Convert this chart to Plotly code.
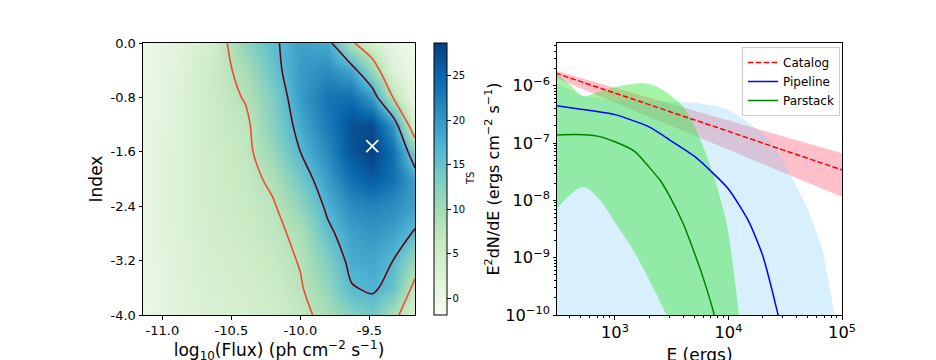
import plotly.graph_objects as go

# ---------------- left panel: TS map ----------------
log_flux = [-11.14, -10.9, -10.65, -10.4, -10.2, -10.0, -9.8, -9.63, -9.48, -9.33, -9.17]
index_vals = [0.0, -0.4, -0.8, -1.2, -1.6, -2.0, -2.4, -2.8, -3.2, -3.6, -4.0]
ts_rows = [
    [0.0, 1.5, 4.5, 11.8, 15.7, 19.0, 18.0, 8.7, 4.0, 1.0, -1.0],
    [0.2, 1.8, 5.5, 9.5, 15.0, 19.5, 21.0, 18.5, 11.0, 2.5, 0.0],
    [0.3, 2.0, 5.5, 8.3, 13.0, 19.5, 23.5, 24.0, 19.5, 8.0, 0.0],
    [0.4, 2.2, 5.5, 7.0, 12.5, 18.0, 23.0, 27.0, 27.5, 20.0, 3.0],
    [0.5, 2.5, 5.0, 6.8, 11.0, 16.5, 21.5, 26.5, 28.7, 24.0, 13.0],
    [0.6, 2.6, 5.0, 6.3, 9.0, 14.0, 19.5, 24.0, 26.0, 24.0, 19.0],
    [0.6, 2.6, 4.8, 6.0, 7.5, 11.5, 17.5, 21.0, 22.0, 21.0, 19.0],
    [0.5, 2.4, 4.5, 5.5, 7.0, 9.0, 15.5, 19.0, 20.0, 19.0, 16.0],
    [0.4, 2.2, 4.0, 5.0, 6.2, 8.3, 13.0, 17.8, 18.5, 16.5, 10.8],
    [0.3, 2.0, 3.6, 4.5, 5.5, 7.6, 11.5, 16.2, 17.2, 15.0, 6.5],
    [0.2, 1.8, 3.2, 4.0, 5.0, 6.8, 9.5, 12.5, 14.0, 9.5, 4.0],
]
contour_levels = [8.0, 16.5]
contour_colors = ["#ef4b31", "#5c0618"]
best_flux = [-9.48]
best_index = [-1.515]
ts_min, ts_max = -1.9, 28.7
cbar_ticks = [0, 5, 10, 15, 20, 25]
flux_ticks = [-11.0, -10.5, -10.0, -9.5]
flux_ticktext = ["-11.0", "-10.5", "-10.0", "-9.5"]
index_ticks = [0.0, -0.8, -1.6, -2.4, -3.2, -4.0]
index_ticktext = ["0.0", "-0.8", "-1.6", "-2.4", "-3.2", "-4.0"]

# ---------------- right panel: SEDs ----------------
E_cat = [300, 1000, 3000, 10000, 30000, 100000]
cat_sed = [1.66e-6, 7.5e-7, 3.6e-7, 1.6e-7, 7.6e-8, 3.4e-8]
E_catband = [300, 1000, 10000, 100000]
cat_up = [1.84e-6, 9.2e-7, 2.45e-7, 6.6e-8]
cat_lo = [1.37e-6, 5.1e-7, 7.65e-8, 1.15e-8]

E_pipe = [300, 500, 1000, 2000, 3000, 5000, 7000, 10000, 15000, 20000, 27000, 32000]
pipe_sed = [4.5e-7, 3.89e-7, 3.13e-7, 1.91e-7, 1.15e-7, 5.9e-8, 3.24e-8, 1.58e-8,
            4.37e-9, 1.10e-9, 1.12e-10, 2.5e-11]
E_pipeband = [300, 525, 1000, 2500, 5000, 7900, 10000, 12600, 17800, 24500, 34700,
              49000, 68000, 86000, 98000]
pipe_up = [1.12e-6, 6.6e-7, 5.6e-7, 5.4e-7, 5.1e-7, 4.4e-7, 3.8e-7, 2.9e-7, 1.74e-7,
           9.8e-8, 2.95e-8, 7.8e-9, 1.35e-9, 1.0e-10, 2.5e-11]
pipe_lo = [1e-11] * len(E_pipeband)

E_par = [300, 450, 700, 1000, 1500, 2000, 2500, 3000, 4000, 5000, 6000, 7500, 8500]
par_sed = [1.38e-7, 1.41e-7, 1.32e-7, 1.05e-7, 7.1e-8, 3.8e-8, 2.24e-8, 1.23e-8,
           3.9e-9, 1.23e-9, 4.4e-10, 1.0e-10, 3.2e-11]
E_par_up = [300, 400, 525, 700, 900, 1200, 1700, 2300, 2900, 4000, 5000, 5600,
            7300, 9600, 11000, 12400, 13500]
par_up = [1.66e-6, 1.05e-6, 6.6e-7, 7.6e-7, 8.9e-7, 1.02e-6, 1.10e-6, 9.8e-7, 7.4e-7,
          4.3e-7, 2.0e-7, 1.2e-7, 2.95e-8, 4.0e-9, 6.9e-10, 1.0e-10, 2.5e-11]
E_par_lo = [300, 525, 740, 1000, 1450, 2850, 3300]
par_lo = [6.8e-9, 1.7e-8, 1.0e-8, 4.1e-9, 1.35e-9, 1.0e-10, 5.0e-11]

FONT = "DejaVu Sans"
W, H = 936, 360
OFF = 8  # page offset of the plot div inside the browser window


def px_x(p):
    return (p - OFF) / W


def px_y(p):
    return 1 - (p - OFF) / H


fig = go.Figure()

fig.add_trace(go.Heatmap(
    x=log_flux, y=index_vals[::-1], z=ts_rows[::-1],
    colorscale="GnBu", zmin=ts_min, zmax=ts_max, zsmooth="best",
    colorbar=dict(
        x=px_x(434), xanchor="left", xpad=0, y=px_y(315), yanchor="bottom",
        len=(315 - 43) / H, lenmode="fraction", ypad=0, thickness=13,
        outlinecolor="black", outlinewidth=1,
        tickvals=cbar_ticks, ticks="outside", ticklen=3.5, tickcolor="black",
        tickfont=dict(size=10, family=FONT, color="black"),
    ),
    hoverinfo="skip",
))
for lev, col in zip(contour_levels, contour_colors):
    fig.add_trace(go.Contour(
        x=log_flux, y=index_vals[::-1], z=ts_rows[::-1],
        contours=dict(start=lev, end=lev, size=1, coloring="none"),
        line=dict(color=col, width=1.6, smoothing=1.0),
        showscale=False, showlegend=False, hoverinfo="skip",
    ))
fig.add_trace(go.Scatter(
    x=best_flux, y=best_index, mode="markers",
    marker=dict(symbol="x-thin", size=12, line=dict(color="white", width=1.8)),
    showlegend=False, hoverinfo="skip",
))

fig.add_trace(go.Scatter(
    x=E_catband + E_catband[::-1], y=cat_up + cat_lo[::-1],
    fill="toself", fillcolor="rgb(255,192,203)", line=dict(width=0),
    mode="lines", showlegend=False, hoverinfo="skip", xaxis="x2", yaxis="y2",
))
fig.add_trace(go.Scatter(
    x=E_pipeband + E_pipeband[::-1], y=pipe_up + pipe_lo[::-1],
    fill="toself", fillcolor="rgba(135,206,250,0.32)", line=dict(width=0),
    mode="lines", showlegend=False, hoverinfo="skip", xaxis="x2", yaxis="y2",
))
fig.add_trace(go.Scatter(
    x=E_par_up + E_par_lo[::-1], y=par_up + par_lo[::-1],
    fill="toself", fillcolor="rgba(60,230,60,0.45)", line=dict(width=0),
    line_shape="spline", mode="lines", showlegend=False, hoverinfo="skip",
    xaxis="x2", yaxis="y2",
))
fig.add_trace(go.Scatter(
    x=E_cat, y=cat_sed, mode="lines", name="Catalog",
    line=dict(color="red", width=1.5, dash="5.5px,2.4px"), xaxis="x2", yaxis="y2",
))
fig.add_trace(go.Scatter(
    x=E_pipe, y=pipe_sed, mode="lines", name="Pipeline",
    line=dict(color="blue", width=1.5, shape="spline", smoothing=0.6), xaxis="x2", yaxis="y2",
))
fig.add_trace(go.Scatter(
    x=E_par, y=par_sed, mode="lines", name="Parstack",
    line=dict(color="green", width=1.5, shape="spline", smoothing=0.6), xaxis="x2", yaxis="y2",
))

axis_common = dict(showline=True, linecolor="black", linewidth=1, mirror=True,
                   ticks="outside", ticklen=3.5, tickcolor="black", showgrid=False,
                   zeroline=False, tickfont=dict(size=13, family=FONT, color="black"),
                   automargin=False)

fig.update_layout(
    width=W, height=H, margin=dict(l=0, r=0, t=0, b=0, autoexpand=False),
    paper_bgcolor="white", plot_bgcolor="white",
    font=dict(family=FONT, color="black"),
    xaxis=dict(domain=[px_x(143), px_x(415)], range=[-11.14, -9.17],
               tickvals=flux_ticks, ticktext=flux_ticktext,
               title=dict(text="log<sub>10</sub>(Flux) (ph cm<sup>−2</sup> s<sup>−1</sup>)",
                          font=dict(size=17), standoff=7),
               anchor="y", **axis_common),
    yaxis=dict(domain=[px_y(315), px_y(43)], range=[-4.0, 0.0],
               tickvals=index_ticks, ticktext=index_ticktext,
               title=dict(text="Index", font=dict(size=17), standoff=3),
               anchor="x", **axis_common),
    xaxis2=dict(domain=[px_x(557), px_x(842)], type="log", range=[2.49, 5.0],
                dtick=1, exponentformat="power",
                minor=dict(ticks="outside", ticklen=2, tickcolor="black", dtick="D1", showgrid=False),
                title=dict(text="E (ergs)", font=dict(size=17), standoff=7),
                anchor="y2", **axis_common),
    yaxis2=dict(domain=[px_y(315), px_y(43)], type="log", range=[-10.0, -5.255],
                dtick=1, exponentformat="power",
                minor=dict(ticks="outside", ticklen=2, tickcolor="black", dtick="D1", showgrid=False),
                title=dict(text="E<sup>2</sup>dN/dE (ergs cm<sup>−2</sup> s<sup>−1</sup>)",
                           font=dict(size=16), standoff=1),
                anchor="x2", **axis_common),
    legend=dict(x=px_x(742), y=px_y(47), xanchor="left", yanchor="top",
                bgcolor="white", bordercolor="#cccccc", borderwidth=1,
                font=dict(size=12, family=FONT, color="black"),
                tracegroupgap=0, itemwidth=30),
    annotations=[dict(text="TS", textangle=-90, xref="paper", yref="paper",
                      x=px_x(470), y=px_y(179), xanchor="center", yanchor="middle",
                      showarrow=False, font=dict(size=10, family=FONT, color="black"))],
    showlegend=True,
)

fig.write_html("out.html")
